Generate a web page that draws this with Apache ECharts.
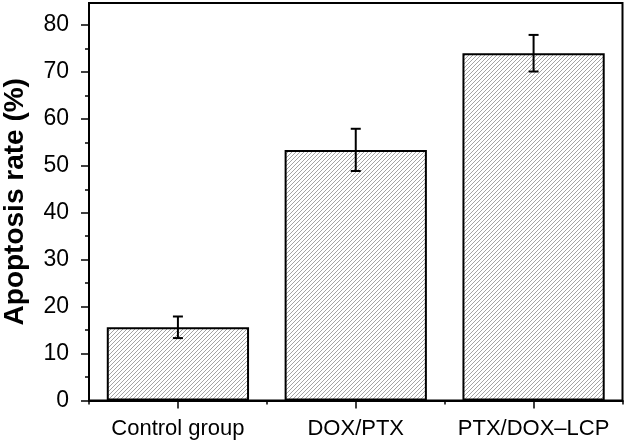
<!DOCTYPE html>
<html>
<head>
<meta charset="utf-8">
<script src="https://cdn.jsdelivr.net/npm/echarts@6/dist/echarts.min.js"></script>
<style>
html,body{margin:0;padding:0;background:#fff;}
#chart{width:625px;height:442px;}
</style>
</head>
<body>
<div id="chart"></div>
<script>
const categories = ['Control group', 'DOX/PTX', 'PTX/DOX\u2013LCP'];
const rates = [15.6, 53.4, 74.0];
const errors = [2.3, 4.5, 3.9];
const yTickValues = [0, 10, 20, 30, 40, 50, 60, 70, 80];
const yMinorTickValues = [5, 15, 25, 35, 45, 55, 65, 75];
const yMin = 0, yMax = 84.7;

// hatch pattern
const pc = document.createElement('canvas');
pc.width = 4; pc.height = 4;
const g = pc.getContext('2d');
g.fillStyle = '#ffffff';
g.fillRect(0, 0, 4, 4);
g.strokeStyle = '#9a9a9a';
g.lineWidth = 0.9;
g.beginPath();
g.moveTo(-1, 5); g.lineTo(5, -1);
g.moveTo(-1, 1); g.lineTo(1, -1);
g.moveTo(3, 5); g.lineTo(5, 3);
g.stroke();

const chart = echarts.init(document.getElementById('chart'), null, {renderer: 'canvas'});
const font = '"Liberation Sans", Arial, sans-serif';

chart.setOption({
  animation: false,
  backgroundColor: '#fff',
  grid: {
    left: 89, right: 2.5, top: 3, bottom: 41.5,
    outerBoundsMode: 'none',
    containLabel: false,
    show: true, borderColor: '#000', borderWidth: 2, backgroundColor: 'transparent'
  },
  xAxis: [{
    type: 'category',
    data: categories,
    position: 'bottom',
    axisLine: {lineStyle: {color: '#000', width: 2}},
    axisTick: {show: true, alignWithLabel: true, length: 8, lineStyle: {color: '#000', width: 1.5}},
    axisLabel: {color: '#000', fontFamily: font, fontSize: 22, margin: 17, interval: 0}
  }, {
    type: 'category',
    data: categories,
    position: 'bottom',
    axisLine: {show: false},
    axisTick: {show: true, alignWithLabel: false, length: 4, lineStyle: {color: '#000', width: 1.5}},
    axisLabel: {show: false}
  }],
  yAxis: [{
    type: 'value',
    position: 'left',
    min: yMin, max: yMax,
    splitLine: {show: false},
    axisLine: {show: true, lineStyle: {color: '#000', width: 2}},
    axisTick: {show: true, length: 8, customValues: yTickValues, lineStyle: {color: '#000', width: 1.5}},
    axisLabel: {color: '#000', fontFamily: font, fontSize: 23, margin: 20, customValues: yTickValues},
    name: 'Apoptosis rate (%)',
    nameLocation: 'middle',
    nameGap: 60,
    nameMoveOverlap: false,
    nameTextStyle: {color: '#000', fontFamily: font, fontSize: 28, fontWeight: 'bold'}
  }, {
    type: 'value',
    position: 'left',
    min: yMin, max: yMax,
    splitLine: {show: false},
    axisLine: {show: false},
    axisTick: {show: true, length: 4, customValues: yMinorTickValues, lineStyle: {color: '#000', width: 1.5}},
    axisLabel: {show: false}
  }],
  series: [{
    type: 'bar',
    xAxisIndex: 0, yAxisIndex: 0,
    data: rates,
    barCategoryGap: '20%',
    itemStyle: {color: {image: pc, repeat: 'repeat'}, borderColor: '#000', borderWidth: 2},
    z: 2
  }, {
    type: 'custom',
    xAxisIndex: 0, yAxisIndex: 0,
    data: rates.map((v, i) => [i, v - errors[i], v + errors[i]]),
    renderItem: function (params, api) {
      const lo = api.coord([api.value(0), api.value(1)]);
      const hi = api.coord([api.value(0), api.value(2)]);
      const hw = 5;
      const st = {stroke: '#000', lineWidth: 2};
      return {
        type: 'group',
        children: [
          {type: 'line', shape: {x1: lo[0], y1: lo[1], x2: hi[0], y2: hi[1]}, style: st},
          {type: 'line', shape: {x1: lo[0] - hw, y1: lo[1], x2: lo[0] + hw, y2: lo[1]}, style: st},
          {type: 'line', shape: {x1: hi[0] - hw, y1: hi[1], x2: hi[0] + hw, y2: hi[1]}, style: st}
        ]
      };
    },
    z: 5
  }]
});
</script>
</body>
</html>
